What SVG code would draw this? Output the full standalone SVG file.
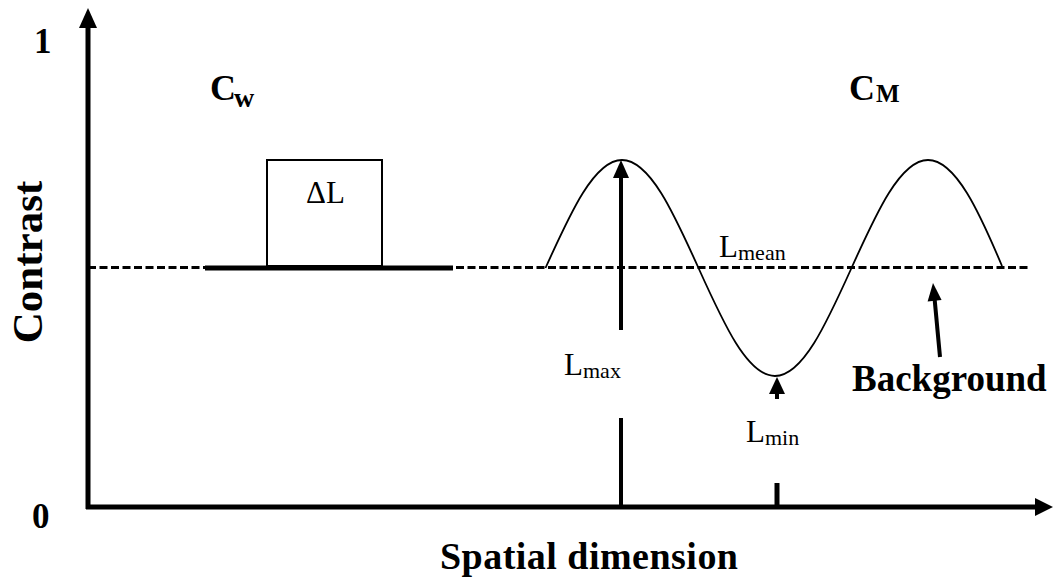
<svg xmlns="http://www.w3.org/2000/svg" width="1053" height="581" viewBox="0 0 1053 581">
<style>
  .t { font-family: "Liberation Serif", "Times New Roman", serif; fill: #000; }
  .b { font-weight: bold; }
  .ax { stroke: #000; stroke-width: 5; fill: none; }
  .arr { stroke: #000; stroke-width: 4; fill: none; }
  .head { fill: #000; stroke: none; }
</style>
<rect width="1053" height="581" fill="#fff"/>

<g id="axes">
  <line class="ax" x1="88" y1="509" x2="88" y2="24"/>
  <polygon class="head" points="88,8 79,28 97,28"/>
  <line class="ax" x1="86" y1="507" x2="1040" y2="507"/>
  <polygon class="head" points="1053,507 1035,498 1035,516"/>
  <text class="t b" x="34" y="53" font-size="35">1</text>
  <text class="t b" x="32" y="528" font-size="35">0</text>
  <text class="t b" font-size="43" text-anchor="middle" transform="translate(42,262) rotate(-90)">Contrast</text>
  <text class="t b" x="589" y="569" font-size="38" text-anchor="middle" textLength="298">Spatial dimension</text>
</g>

<g id="background-line">
  <line x1="88" y1="267.5" x2="1030" y2="267.5" stroke="#000" stroke-width="3.2" stroke-dasharray="8 3.5"/>
</g>

<g id="weber">
  <line x1="205" y1="268" x2="453" y2="268" stroke="#000" stroke-width="5"/>
  <rect x="267" y="160" width="115" height="106" fill="none" stroke="#000" stroke-width="2"/>
  <text class="t" x="306" y="203" font-size="31">ΔL</text>
  <text class="t b" x="210" y="100" font-size="36">C</text>
  <text class="t b" x="234" y="107" font-size="28">w</text>
</g>

<g id="michelson">
  <path d="M 545.5 268 C 570.45 212.67, 594.31 160, 622 160 C 649.69 160, 673.55 212.67, 698.5 268 C 723.45 323.33, 747.31 376, 775 376 C 802.69 376, 826.55 323.33, 851.5 268 C 876.45 212.67, 900.31 160, 928 160 C 955.69 160, 979.55 212.67, 1002 266" fill="none" stroke="#000" stroke-width="1.8"/>
  <text class="t b" x="849" y="100" font-size="36">C</text>
  <text class="t b" x="876" y="102" font-size="25">M</text>
</g>

<g id="labels">
  <text class="t" x="564" y="375" font-size="31">L</text>
  <text class="t" x="583" y="378" font-size="22">max</text>
  <text class="t" x="719" y="257" font-size="31">L</text>
  <text class="t" x="738" y="260" font-size="22">mean</text>
  <text class="t" x="746" y="442" font-size="31">L</text>
  <text class="t" x="765" y="445" font-size="22">min</text>
  <text class="t b" x="852" y="391" font-size="37">Background</text>
</g>

<g id="connectors">
  <line class="arr" x1="621" y1="330" x2="621" y2="175"/>
  <polygon class="head" points="621,160 613,178 629,178"/>
  <line class="arr" x1="621" y1="418" x2="621" y2="507"/>
  <line class="arr" x1="777" y1="392" x2="777" y2="399"/>
  <polygon class="head" points="777,377 769,394 785,394"/>
  <line x1="777" y1="483" x2="777" y2="507" stroke="#000" stroke-width="5"/>
  <line class="arr" x1="940" y1="357" x2="934.5" y2="298"/>
  <polygon class="head" points="933,283 941.6,300 927.6,301.4"/>
</g>
</svg>
